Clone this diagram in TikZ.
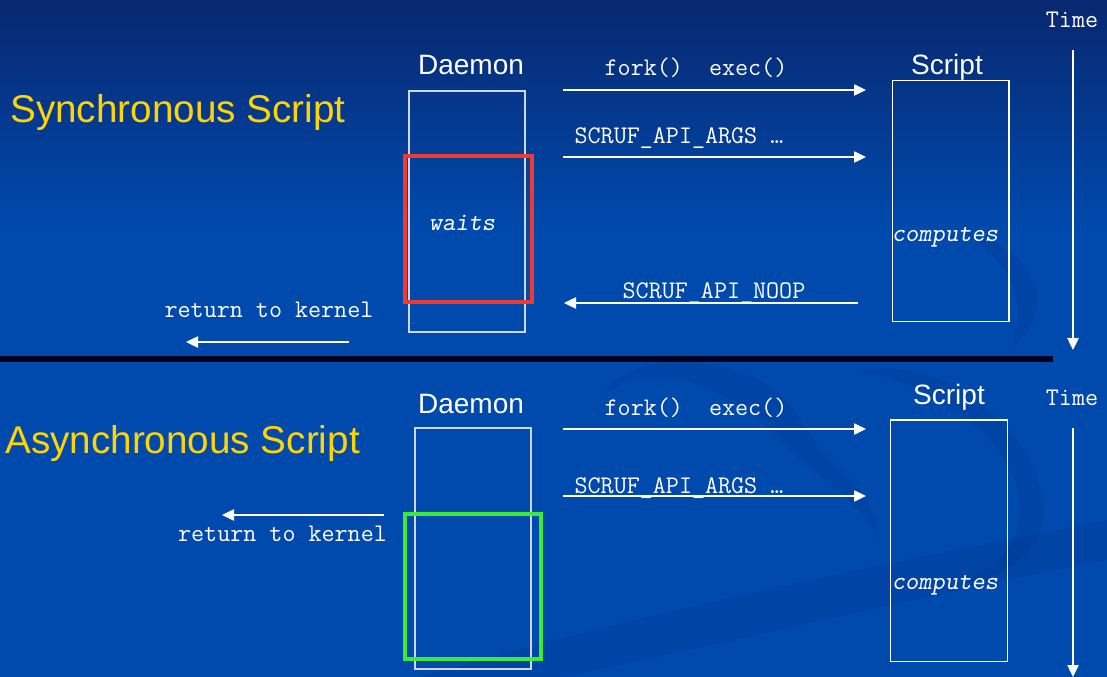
\documentclass[tikz,border=0pt]{standalone}
\usepackage{fontspec}
\setmainfont{Liberation Sans}
\usetikzlibrary{arrows.meta}

\definecolor{slideblue}{RGB}{0,74,173}
\definecolor{slidetop}{RGB}{8,40,112}
\definecolor{swirl}{RGB}{0,45,130}
\definecolor{titleyellow}{RGB}{255,212,0}
\definecolor{boxgrey}{RGB}{205,215,240}
\definecolor{waitred}{RGB}{240,58,48}
\definecolor{asyncgreen}{RGB}{58,235,58}
\definecolor{divider}{RGB}{0,2,30}

\begin{document}
\begin{tikzpicture}[x=0.75pt,y=-0.75pt,
  title/.style={font=\fontsize{29}{32}\selectfont, text=titleyellow, anchor=base west, inner sep=0},
  head/.style={font=\fontsize{21}{24}\selectfont, text=white, anchor=base, inner sep=0},
  code/.style={font=\ttfamily\fontsize{19}{22}\selectfont, text=white, anchor=base, inner sep=0},
  icode/.style={font=\ttfamily\slshape\fontsize{19}{22}\selectfont, text=white, anchor=base, inner sep=0},
  lifebox/.style={draw=boxgrey, line width=1pt, inner sep=0, minimum width=87pt, minimum height=180.75pt},
  scriptbox/.style={draw=white, line width=1pt, inner sep=0, minimum width=87.5pt, minimum height=181pt},
  waitbox/.style={draw=waitred, line width=2.6pt, inner sep=0, minimum width=95.25pt, minimum height=109.5pt},
  freebox/.style={draw=asyncgreen, line width=3pt, inner sep=0, minimum width=102pt, minimum height=108.75pt},
  msg/.style={draw=white, line width=1pt, -{Triangle[length=9pt,width=8.5pt]}},
]
% slide background
\useasboundingbox (0,0) rectangle (1107,677);
\fill[slideblue] (0,0) rectangle (1107,677);
\shade[top color=slidetop, bottom color=slideblue] (0,0) rectangle (1107,230);

% faint swirl in the background
\begin{scope}[opacity=0.18]
  % upper sweep under the divider, turning into the long diagonal stroke
  \fill[swirl] (605,395) .. controls (620,350) and (760,345) .. (800,420)
     .. controls (830,470) and (870,480) .. (880,540)
     .. controls (860,500) and (820,480) .. (780,440)
     .. controls (730,380) and (640,360) .. (605,395) -- cycle;
  % right-hand loop of the swirl
  \fill[swirl] (858,372) .. controls (930,350) and (1030,420) .. (1043,500)
     .. controls (1050,550) and (1010,575) .. (960,585)
     .. controls (1010,560) and (1030,530) .. (1015,480)
     .. controls (990,420) and (920,380) .. (858,372) -- cycle;
  % diagonal streak across the lower area
  \fill[swirl] (420,677) .. controls (650,610) and (900,560) .. (1107,520)
     -- (1107,560) .. controls (900,600) and (700,650) .. (560,677) -- cycle;
  % swoosh on the right of the upper area
  \fill[swirl] (960,230) .. controls (1040,250) and (1060,310) .. (1010,350)
     .. controls (1030,300) and (1010,260) .. (960,230) -- cycle;
\end{scope}

% divider between the two cases
\draw[divider, line width=4.5pt] (0,359) -- (1053,359);

% ---------- synchronous script ----------
\node[title] (synctitle) at (10,123) {Synchronous Script};
\node[head] (dlabel1) at (471,75) {Daemon};
\node[head] (slabel1) at (947,75) {Script};
\node[code] (time1) at (1072,28) {Time};

\node[lifebox] (daemon1) at (467,211.5) {};
\node[waitbox] (wait1) at (468.5,229) {};
\node[scriptbox] (script1) at (950.5,201) {};
\node[icode] (waits) at (462,231) {waits};
\node[icode] (comp1) at (945,242) {computes};

\node[code] (fork1) at (696,76) {fork()\ \ exec()};
\node[code] (args1) at (679,144) {SCRUF\_API\_ARGS …};
\node[code] (noop1) at (714,299) {SCRUF\_API\_NOOP};
\node[code] (ret1) at (269,318) {return to kernel};

\coordinate (fork1a) at (563,90);   \coordinate (fork1b) at (866,90);
\coordinate (args1a) at (563,157);  \coordinate (args1b) at (866,157);
\coordinate (noop1a) at (858,303);  \coordinate (noop1b) at (564,303);
\coordinate (ret1a) at (349,342);   \coordinate (ret1b) at (186,342);
\coordinate (time1a) at (1073,50);  \coordinate (time1b) at (1073,350);

\draw[msg] (fork1a) -- (fork1b);
\draw[msg] (args1a) -- (args1b);
\draw[msg] (noop1a) -- (noop1b);
\draw[msg] (ret1a) -- (ret1b);
\draw[msg] (time1a) -- (time1b);

% ---------- asynchronous script ----------
\node[title] (asynctitle) at (5,453) {Asynchronous Script};
\node[head] (dlabel2) at (471,413) {Daemon};
\node[head] (slabel2) at (949,404) {Script};
\node[code] (time2) at (1072,405) {Time};

\node[lifebox] (daemon2) at (473,548.5) {};
\node[freebox] (free2) at (473,586.5) {};
\node[scriptbox] (script2) at (949,540.5) {};
\node[icode] (comp2) at (945,589) {computes};

\node[code] (fork2) at (696,415) {fork()\ \ exec()};
\node[code] (args2) at (679,493) {SCRUF\_API\_ARGS …};
\node[code] (ret2) at (282.5,541) {return to kernel};

\coordinate (fork2a) at (563,429);  \coordinate (fork2b) at (866,429);
\coordinate (args2a) at (563,496);  \coordinate (args2b) at (866,496);
\coordinate (ret2a) at (384,515);   \coordinate (ret2b) at (222,515);
\coordinate (time2a) at (1073,428); \coordinate (time2b) at (1073,677);

\draw[msg] (fork2a) -- (fork2b);
\draw[msg] (args2a) -- (args2b);
\draw[msg] (ret2a) -- (ret2b);
\draw[msg] (time2a) -- (time2b);
\end{tikzpicture}
\end{document}
